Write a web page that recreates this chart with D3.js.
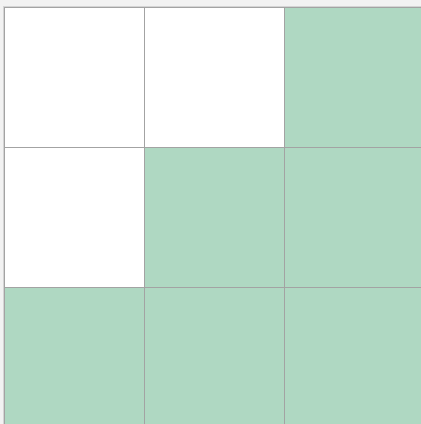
<!DOCTYPE html>
<html>
<head>
<meta charset="utf-8">
<script src="https://cdn.jsdelivr.net/npm/d3@7"></script>
<style>
html,body{margin:0;padding:0;background:#f2f2f2;overflow:hidden;}
svg{display:block;}
</style>
</head>
<body>
<svg id="chart" width="421" height="424"></svg>
<script>
const rows = [0, 1, 2];
const cols = [0, 1, 2];
const values = [
  [0, 0, 1],
  [0, 1, 1],
  [1, 1, 1]
];
const colors = ["#ffffff", "#afd8c2"];

const svg = d3.select("#chart");
const x = d3.scaleBand().domain(cols).range([4.5, 424.5]);
const y = d3.scaleBand().domain(rows).range([7.5, 427.5]);
const color = d3.scaleOrdinal().domain([0, 1]).range(colors);

// faint outer edge
svg.append("rect")
  .attr("x", x.range()[0] - 1)
  .attr("y", y.range()[0] - 1)
  .attr("width", x.range()[1] - x.range()[0] + 2)
  .attr("height", y.range()[1] - y.range()[0] + 2)
  .attr("fill", "none")
  .attr("stroke", "#d4d4d4")
  .attr("stroke-width", 1);

const cells = [];
rows.forEach(r => cols.forEach(c => cells.push({r, c, v: values[r][c]})));

svg.selectAll("rect.cell").data(cells).join("rect")
  .attr("class", "cell")
  .attr("x", d => x(d.c))
  .attr("y", d => y(d.r))
  .attr("width", x.bandwidth())
  .attr("height", y.bandwidth())
  .attr("fill", d => color(d.v))
  .attr("stroke", "#a3a3a3")
  .attr("stroke-width", 1);
</script>
</body>
</html>
